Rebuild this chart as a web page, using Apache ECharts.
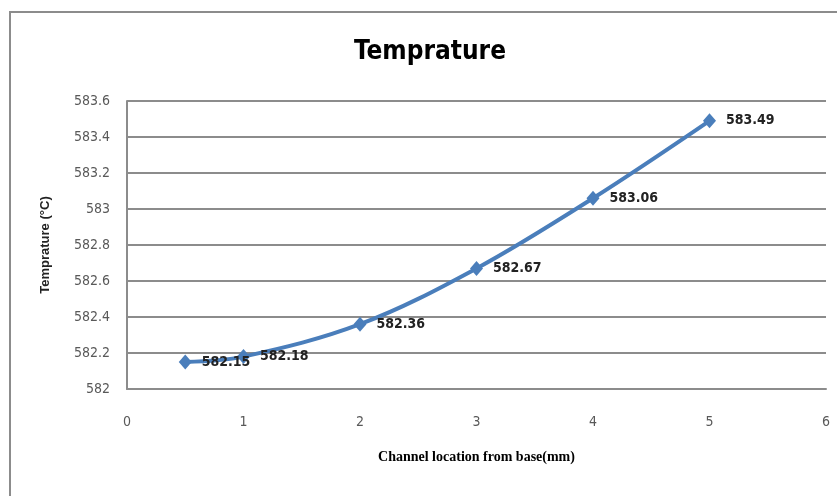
<!DOCTYPE html>
<html>
<head>
<meta charset="utf-8">
<script src="https://cdn.jsdelivr.net/npm/echarts@6/dist/echarts.min.js"></script>
<style>
  html, body { margin: 0; padding: 0; background: #fff; }
  #main { width: 837px; height: 496px; }
</style>
</head>
<body>
<div id="main"></div>
<script>
// data
var xPos = [0.5, 1, 2, 3, 4, 5];
var temps = [582.15, 582.18, 582.36, 582.67, 583.06, 583.49];

var pts = [];
for (var i = 0; i < xPos.length; i++) {
    pts.push([xPos[i], temps[i]]);
}

var myChart = echarts.init(document.getElementById('main'));

var tickFont = '"Liberation Sans Narrow", "DejaVu Sans Condensed", sans-serif';

var option = {
    animation: false,
    title: {
        text: 'Temprature',
        left: 425,
        top: 34,
        textAlign: 'center',
        textStyle: {
            fontSize: 26,
            fontWeight: 'bold',
            color: '#000',
            fontFamily: tickFont
        }
    },
    graphic: [
        {
            type: 'rect',
            shape: { x: 10, y: 12, width: 900, height: 600 },
            style: { fill: 'none', stroke: '#8c8c8c', lineWidth: 2 },
            silent: true
        }
    ],
    grid: {
        left: 127,
        right: 11,
        top: 101,
        bottom: 107
    },
    xAxis: {
        type: 'value',
        min: 0,
        max: 6,
        interval: 1,
        name: 'Channel location from base(mm)',
        nameLocation: 'middle',
        nameGap: 61,
        nameTextStyle: {
            fontFamily: '"Liberation Serif", "DejaVu Serif", serif',
            fontWeight: 'bold',
            fontSize: 14,
            color: '#000'
        },
        axisLine: { show: true, lineStyle: { color: '#8c8c8c', width: 2 } },
        axisTick: { show: false },
        splitLine: { show: false },
        axisLabel: {
            margin: 26,
            fontSize: 14,
            color: '#595959',
            fontFamily: tickFont
        }
    },
    yAxis: {
        type: 'value',
        min: 582,
        max: 583.6,
        interval: 0.2,
        name: 'Temprature (°C)',
        nameLocation: 'middle',
        nameRotate: 90,
        nameGap: 75,
        nameTextStyle: {
            fontWeight: 'bold',
            fontSize: 13,
            color: '#222',
            fontFamily: 'sans-serif'
        },
        axisLine: { show: true, lineStyle: { color: '#8c8c8c', width: 2 } },
        axisTick: { show: false },
        splitLine: { show: true, lineStyle: { color: '#8c8c8c', width: 2 } },
        axisLabel: {
            margin: 17,
            fontSize: 14,
            color: '#595959',
            fontFamily: tickFont,
            formatter: function (v) {
                return String(parseFloat(v.toFixed(1)));
            }
        }
    },
    series: [
        {
            type: 'line',
            data: pts,
            smooth: 0.35,
            symbol: 'diamond',
            symbolSize: [13, 15],
            lineStyle: { color: '#4a7ebb', width: 4 },
            itemStyle: { color: '#4a7ebb' },
            label: {
                show: true,
                position: 'right',
                distance: 10,
                fontSize: 14,
                fontWeight: 'bold',
                color: '#222',
                fontFamily: tickFont,
                formatter: function (p) {
                    return p.value[1].toFixed(2);
                }
            }
        }
    ]
};

myChart.setOption(option);
</script>
</body>
</html>
